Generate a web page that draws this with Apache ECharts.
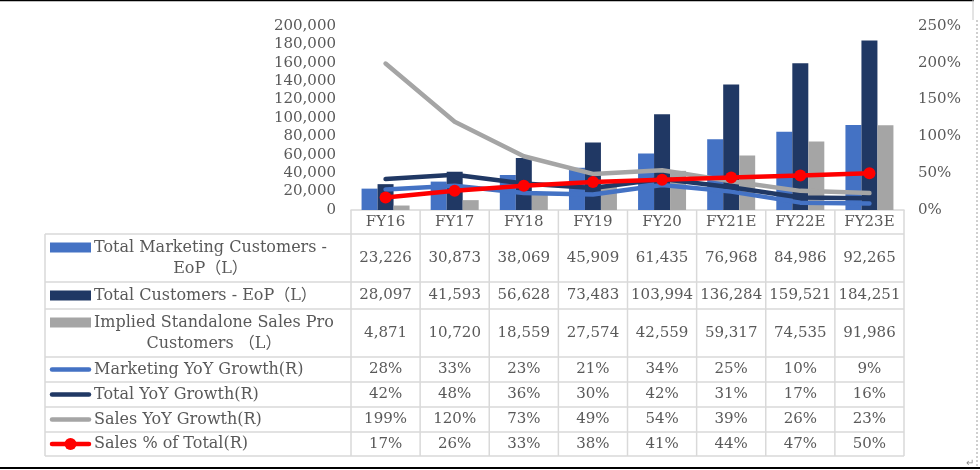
<!DOCTYPE html>
<html><head><meta charset="utf-8">
<script src="https://cdn.jsdelivr.net/npm/echarts@6/dist/echarts.min.js"></script>
<style>html,body{margin:0;padding:0;background:#fff}#c{width:980px;height:470px}</style>
</head><body><div id="c"></div>
<script>
// ---- data ----
const categories = ['FY16','FY17','FY18','FY19','FY20','FY21E','FY22E','FY23E'];
const marketingCustomers = [23226, 30873, 38069, 45909, 61435, 76968, 84986, 92265];
const totalCustomers = [28097, 41593, 56628, 73483, 103994, 136284, 159521, 184251];
const salesProCustomers = [4871, 10720, 18559, 27574, 42559, 59317, 74535, 91986];
const marketingYoY = [0.28, 0.33, 0.23, 0.21, 0.34, 0.25, 0.10, 0.09];
const totalYoY = [0.42, 0.48, 0.36, 0.30, 0.42, 0.31, 0.17, 0.16];
const salesYoY = [1.99, 1.20, 0.73, 0.49, 0.54, 0.39, 0.26, 0.23];
const salesShare = [0.17, 0.26, 0.33, 0.38, 0.41, 0.44, 0.47, 0.50];
const seriesNames = [
  'Total Marketing Customers -\nEoP\uFF08L\uFF09',
  'Total Customers - EoP\uFF08L\uFF09',
  'Implied Standalone Sales Pro\nCustomers \uFF08L\uFF09',
  'Marketing YoY Growth(R)',
  'Total YoY Growth(R)',
  'Sales YoY Growth(R)',
  'Sales % of Total(R)'
];

// ---- style ----
const C_BLUE = '#4472C4', C_NAVY = '#203864', C_GRAY = '#A5A5A5', C_RED = '#FF0000';
const TXT = '#595959', BORDER = '#D9D9D9';
const FONT = '"DejaVu Serif", "Noto Sans CJK SC", serif';
const LABEL_FONT = '16px ' + FONT;
const fmtNum = v => v.toLocaleString('en-US');
const fmtPct = v => Math.round(v * 100) + '%';

const chart = echarts.init(document.getElementById('c'), null, {renderer: 'canvas'});

const lineStyle = (c) => ({color: c, width: 4.5, cap: 'round', join: 'round'});
const option = {
  animation: false,
  backgroundColor: '#fff',
  grid: {left: 351, right: 76, top: 26, bottom: 260},
  xAxis: {
    type: 'category', data: categories, boundaryGap: true,
    axisLine: {lineStyle: {color: BORDER, width: 1.5}},
    axisTick: {show: false},
    axisLabel: {color: TXT, fontFamily: FONT, fontSize: 15, margin: 5}
  },
  yAxis: [
    {type: 'value', min: 0, max: 200000, interval: 20000,
     axisLine: {show: false}, axisTick: {show: false}, splitLine: {show: false},
     axisLabel: {color: TXT, fontFamily: FONT, fontSize: 15, margin: 15, formatter: fmtNum}},
    {type: 'value', min: 0, max: 2.5, interval: 0.5,
     axisLine: {show: false}, axisTick: {show: false}, splitLine: {show: false},
     axisLabel: {color: TXT, fontFamily: FONT, fontSize: 15, margin: 14, formatter: fmtPct}}
  ],
  series: [
    {name: seriesNames[0], type: 'bar', data: marketingCustomers, barWidth: 16, barGap: '0%', itemStyle: {color: C_BLUE}},
    {name: seriesNames[1], type: 'bar', data: totalCustomers, barWidth: 16, barGap: '0%', itemStyle: {color: C_NAVY}},
    {name: seriesNames[2], type: 'bar', data: salesProCustomers, barWidth: 16, barGap: '0%', itemStyle: {color: C_GRAY}},
    {name: seriesNames[3], type: 'line', yAxisIndex: 1, data: marketingYoY, symbol: 'none', lineStyle: lineStyle(C_BLUE), z: 3},
    {name: seriesNames[4], type: 'line', yAxisIndex: 1, data: totalYoY, symbol: 'none', lineStyle: lineStyle(C_NAVY), z: 3},
    {name: seriesNames[5], type: 'line', yAxisIndex: 1, data: salesYoY, symbol: 'none', lineStyle: lineStyle(C_GRAY), z: 3},
    {name: seriesNames[6], type: 'line', yAxisIndex: 1, data: salesShare, symbol: 'circle', symbolSize: 12,
     itemStyle: {color: C_RED}, lineStyle: lineStyle(C_RED), z: 4}
  ]
};
chart.setOption(option);

// ---- data table drawn below the axis ----
const rows = [
  {name: seriesNames[0], values: marketingCustomers, fmt: fmtNum, key: 'bar', color: C_BLUE, h: 48},
  {name: seriesNames[1], values: totalCustomers, fmt: fmtNum, key: 'bar', color: C_NAVY, h: 27},
  {name: seriesNames[2], values: salesProCustomers, fmt: fmtNum, key: 'bar', color: C_GRAY, h: 48},
  {name: seriesNames[3], values: marketingYoY, fmt: fmtPct, key: 'line', color: C_BLUE, h: 25},
  {name: seriesNames[4], values: totalYoY, fmt: fmtPct, key: 'line', color: C_NAVY, h: 25},
  {name: seriesNames[5], values: salesYoY, fmt: fmtPct, key: 'line', color: C_GRAY, h: 25},
  {name: seriesNames[6], values: salesShare, fmt: fmtPct, key: 'marker', color: C_RED, h: 24}
];
const centers = categories.map((c, i) => chart.convertToPixel({xAxisIndex: 0}, i));
const step = centers[1] - centers[0];
const x0 = centers[0] - step / 2;
const xEnd = centers[centers.length - 1] + step / 2;
const yAxisPx = chart.convertToPixel({yAxisIndex: 0}, 0);
const headerH = 24;
const tableLeft = 45;
const keyL = 50, keyR = 91, textX = 94;
const mctx = document.createElement('canvas').getContext('2d');
mctx.font = LABEL_FONT;

const els = [];
const ln = (x1, y1, x2, y2, stroke, w, extra) => els.push({
  type: 'line', silent: true, z: 10,
  shape: {x1, y1, x2, y2},
  style: Object.assign({stroke, lineWidth: w}, extra || {})
});
const tx = (text, x, y, align, extra) => els.push({
  type: 'text', silent: true, z: 11,
  style: Object.assign({text, x, y, textAlign: align, textVerticalAlign: 'middle',
    font: '15px ' + FONT, fill: TXT}, extra || {})
});

let y = yAxisPx + headerH;
const tableBottom = y + rows.reduce((s, r) => s + r.h, 0);
for (let k = 0; k <= categories.length; k++) ln(x0 + k * step, yAxisPx, x0 + k * step, tableBottom, BORDER, 1.5);
ln(tableLeft, y, tableLeft, tableBottom, BORDER, 1.5);
ln(tableLeft, y, xEnd, y, BORDER, 1.5);
rows.forEach(r => {
  const top = y, mid = y + r.h / 2;
  const lines = r.name.split('\n');
  const twoLine = lines.length > 1;
  const keyY = twoLine ? top + 13.5 : mid;
  if (r.key === 'bar') {
    els.push({type: 'rect', silent: true, z: 11, shape: {x: keyL, y: keyY - 5, width: keyR - keyL, height: 10}, style: {fill: r.color}});
  } else {
    ln(keyL + 2, keyY, keyR - 2, keyY, r.color, 4.5, {lineCap: 'round'});
    if (r.key === 'marker') els.push({type: 'circle', silent: true, z: 12, shape: {cx: (keyL + keyR) / 2, cy: keyY, r: 6}, style: {fill: r.color}});
  }
  if (twoLine) {
    const w1 = mctx.measureText(lines[0]).width;
    tx(r.name, textX + w1 / 2, mid, 'center', {lineHeight: 21, font: LABEL_FONT});
  } else tx(r.name, textX, mid, 'left', {font: LABEL_FONT});
  r.values.forEach((v, i) => tx(r.fmt(v), centers[i], mid, 'center'));
  y += r.h;
  ln(tableLeft, y, xEnd, y, BORDER, 1.5);
});

// page frame (document borders)
ln(0, 0.5, 974, 0.5, '#000', 1.5);
ln(0, 468, 980, 468, '#000', 2);
ln(973, 0, 973, 20, '#C8C8C8', 1);
ln(977, 20, 977, 466, '#A0A0A0', 1, {lineDash: [2, 2]});
tx('\u21B5', 970, 462, 'center', {font: '10px "Noto Sans CJK SC"', fill: '#8C8C8C'});

chart.setOption({graphic: {elements: els}});
</script></body></html>
